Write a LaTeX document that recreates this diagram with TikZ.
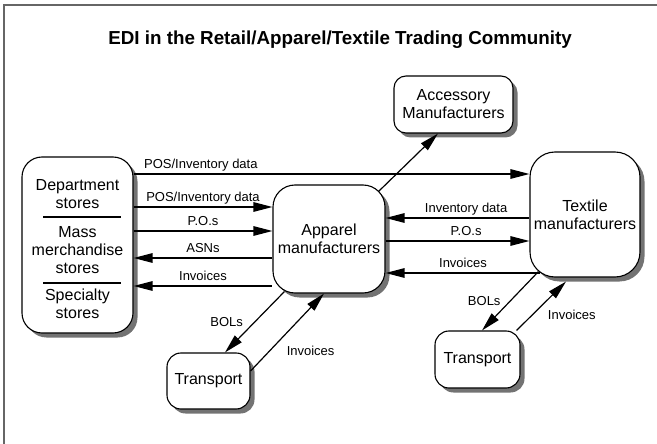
\documentclass[tikz,border=0pt]{standalone}
\usepackage{fontspec}
\setmainfont{Liberation Sans}
\usetikzlibrary{arrows.meta,shadows}
\begin{document}
\begin{tikzpicture}[x=1pt,y=-1pt,>={Triangle[length=19pt,width=9.5pt]},
  box/.style={draw,line width=1.1pt,fill=white,align=center,inner sep=0pt,
    font=\fontsize{16}{18}\selectfont,
    drop shadow={shadow xshift=4.5pt,shadow yshift=-4.5pt,fill=black!55,opacity=1}},
  flow/.style={line width=1.2pt,->},
  lbl/.style={font=\fontsize{13}{15}\selectfont,inner sep=2pt,text height=9pt,text depth=3pt}]
  \useasboundingbox (0,0) rectangle (657,444);
  \draw[black!60,line width=1.6pt] (4,444) -- (4,5) -- (657,5);
  \node[font=\bfseries\fontsize{18.8}{21}\selectfont] (title) at (340,40)
    {EDI in the Retail/Apparel/Textile Trading Community};
  % boxes
  \node[box,rounded corners=20pt,minimum width=111pt,minimum height=176pt] (retail) at (77.5,245) {};
  \node[box,rounded corners=22pt,minimum width=112pt,minimum height=108pt] (apparel) at (329,239) {Apparel\\manufacturers};
  \node[box,rounded corners=25pt,minimum width=110pt,minimum height=125pt] (textile) at (585,214.5) {Textile\\manufacturers};
  \node[box,rounded corners=12pt,minimum width=119pt,minimum height=57pt] (accessory) at (453.5,104.5) {Accessory\\Manufacturers};
  \node[box,rounded corners=14pt,minimum width=83pt,minimum height=56pt] (transportA) at (208.5,381) {Transport};
  \node[box,rounded corners=14pt,minimum width=85pt,minimum height=57pt] (transportB) at (477.5,359.5) {Transport};
  % retail sections
  \node[align=center,font=\fontsize{16}{18}\selectfont] (dept) at (77.5,194) {Department\\stores};
  \node[align=center,font=\fontsize{16}{18}\selectfont] (mass) at (77.5,250) {Mass\\merchandise\\stores};
  \node[align=center,font=\fontsize{16}{18}\selectfont] (spec) at (77.5,304) {Specialty\\stores};
  \draw[line width=1.1pt] (43,217) -- (121,217);
  \draw[line width=1.1pt] (43,283) -- (121,283);
  % flows
  \draw[flow] (retail.east |- 0,174) -- node[lbl,above,pos=0.17] {POS/Inventory data} (textile.west |- 0,174);
  \foreach \yy/\txt/\tip in {207/{POS/Inventory data}/->,231/{P.O.s}/->,258/{ASNs}/<-,286/{Invoices}/<-}{
    \draw[flow,arrows/.expanded=\tip] (retail.east |- 0,\yy) -- node[lbl,above] {\txt} (apparel.west |- 0,\yy);
  }
  \foreach \yy/\txt/\tip/\dx/\pp in {218/{Inventory data}/<-/0/0.56,241/{P.O.s}/->/0/0.56,273/{Invoices}/<-/11/0.5}{
    \draw[flow,arrows/.expanded=\tip] (apparel.east |- 0,\yy) -- node[lbl,above,pos=\pp] {\txt} ([xshift=\dx pt]textile.west |- 0,\yy);
  }
  \draw[flow] ([xshift=-7pt,yshift=-7pt]apparel.north east) -- ([xshift=-15.5pt]accessory.south);
  \draw[flow] ([xshift=12pt,yshift=2pt]apparel.south west) -- node[lbl,left=8pt,pos=0.52] {BOLs} ([xshift=16.5pt]transportA.north);
  \draw[flow] ([yshift=10pt]transportA.east) -- node[lbl,right=16pt,pos=0.24] {Invoices} ([xshift=-5pt]apparel.south);
  \draw[flow] ([xshift=9pt,yshift=6pt]textile.south west) -- node[lbl,left=6pt,pos=0.52] {BOLs} ([xshift=4.5pt]transportB.north);
  \draw[flow] ([xshift=-4pt]transportB.north east) -- node[lbl,right=15pt,pos=0.28] {Invoices} ([xshift=-19pt,yshift=-4pt]textile.south);
\end{tikzpicture}
\end{document}
